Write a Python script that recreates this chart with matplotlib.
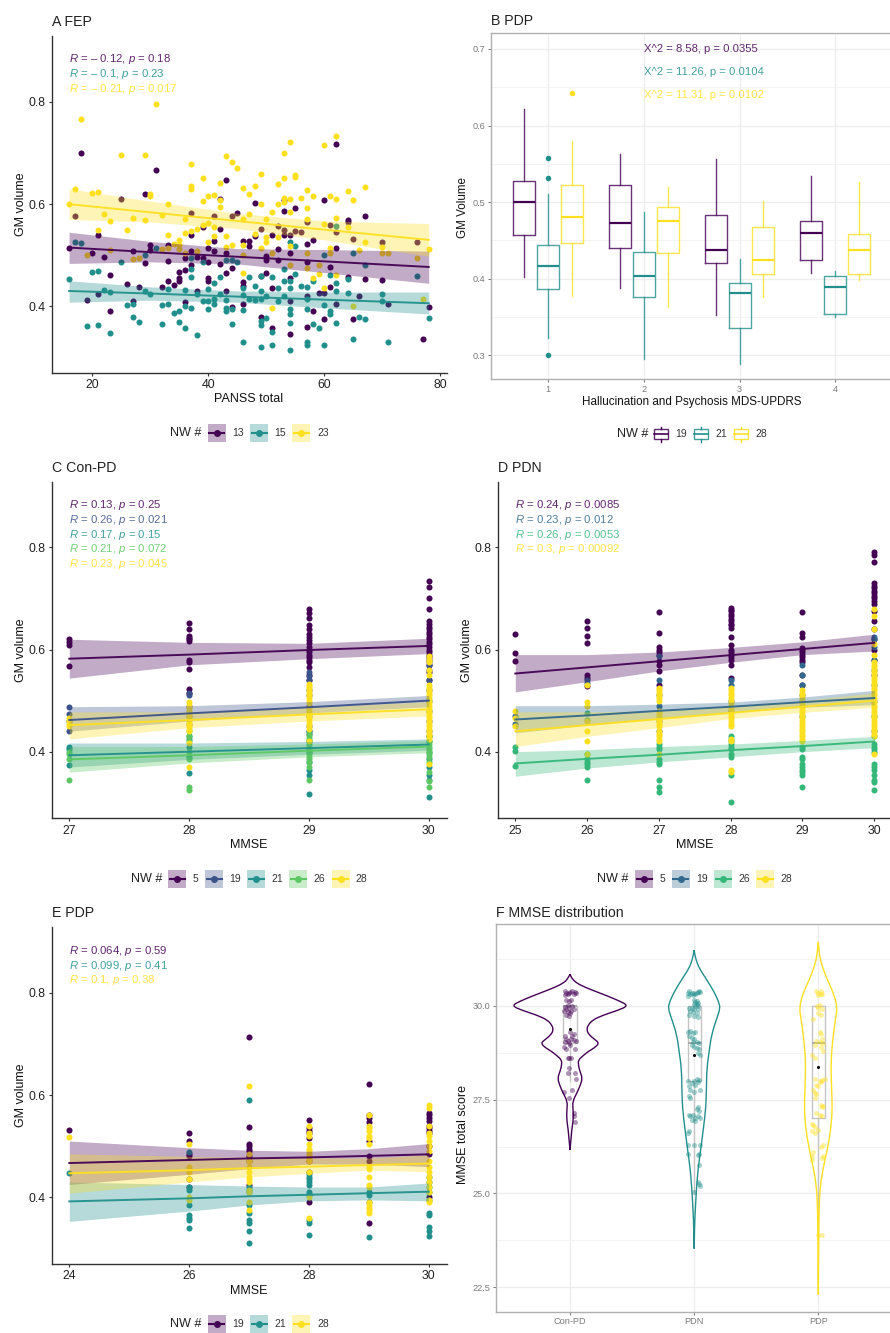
import matplotlib
matplotlib.use('Agg')
import numpy as np
import matplotlib.pyplot as plt
from matplotlib.patches import Rectangle, PathPatch
from matplotlib.path import Path

plt.rcParams['font.family'] = ['Liberation Sans', 'DejaVu Sans']
plt.rcParams['mathtext.fontset'] = 'custom'
plt.rcParams['mathtext.it'] = 'Liberation Sans:italic'
plt.rcParams['mathtext.rm'] = 'Liberation Sans'

# colours
PURPLE = '#440154'
BLUE3 = '#3B528B'
BLUE4 = '#31688E'
TEAL = '#21908C'
GREEN4 = '#35B779'
GREEN5 = '#5DC863'
YELLOW = '#FEE020'

# ---------------------------------------------------------
# A FEP
# ---------------------------------------------------------
FEP_13 = [(16,.515),(18,.70),(19,.412),(20,.505),(21,.54),(21,.425),(22,.497),(23,.461),(23,.39),(26,.444),(27,.508),(27,.41),
          (28,.437),(29,.62),(29,.485),(30,.52),(30,.51),(31,.667),(32,.438),(33,.52),(33,.488),(33,.45),(34,.442),(35,.468),
          (35,.455),(35,.45),(36,.472),(36,.495),(36,.408),(37,.54),(37,.508),(37,.48),(38,.43),(38,.497),(39,.555),(39,.495),
          (40,.515),(40,.487),(40,.455),(40,.45),(41,.528),(41,.508),(42,.552),(42,.483),(42,.61),(43,.648),(43,.505),(43,.465),
          (43,.43),(44,.475),(44,.398),(45,.583),(46,.527),(46,.447),(46,.44),(46,.405),(47,.528),(47,.518),(48,.603),(48,.538),
          (49,.552),(49,.46),(49,.38),(50,.498),(50,.49),(50,.465),(51,.54),(51,.435),(51,.358),(52,.512),(52,.49),(53,.586),
          (53,.54),(53,.608),(54,.54),(54,.505),(54,.455),(54,.41),(54,.345),(55,.593),(57,.522),(57,.487),(57,.42),(57,.36),
          (58,.53),(58,.39),(59,.426),(60,.608),(60,.427),(60,.375),(61,.477),(61,.437),(62,.718),(62,.515),(62,.405),(64,.568),
          (64,.458),(65,.375),(66,.42),(67,.577),(67,.453),(70,.451),(71,.405),(77,.335),(78,.398),
          (17,.577),(25,.61),(37,.583),(41,.577),(44,.577),(52,.557),(53,.55),(55,.547),(56,.545),(57,.565),(61,.56),(62,.545),
          (64,.565),(65,.532),(70,.525),(76,.525)]
FEP_15 = [(16,.454),(17,.525),(18,.523),(20,.467),(21,.47),(21,.363),(19,.362),(22,.432),(23,.428),(23,.347),(25,.487),(26,.402),
          (27,.405),(27,.38),(28,.37),(29,.43),(29,.50),(30,.425),(31,.515),(32,.403),(32,.366),(33,.433),(33,.405),(34,.387),
          (35,.39),(35,.37),(36,.432),(36,.40),(36,.357),(37,.473),(37,.457),(37,.396),(37,.495),(38,.425),(38,.343),(39,.486),
          (39,.41),(40,.433),(40,.41),(40,.395),(41,.445),(41,.415),(41,.405),(42,.457),(42,.425),(43,.49),(43,.412),(43,.397),
          (43,.39),(44,.49),(44,.395),(44,.365),(45,.487),(46,.435),(46,.422),(46,.392),(46,.33),(47,.457),(47,.415),(48,.44),
          (48,.412),(49,.46),(49,.43),(49,.415),(49,.372),(49,.363),(49,.32),(50,.42),(50,.378),(51,.458),(51,.35),(51,.325),
          (52,.435),(52,.41),(53,.473),(53,.45),(53,.42),(54,.525),(54,.45),(54,.435),(54,.395),(54,.385),(54,.367),(54,.315),
          (55,.518),(55,.463),(56,.44),(57,.438),(57,.415),(57,.395),(57,.33),(57,.325),(58,.45),(58,.365),(59,.358),(60,.50),
          (60,.403),(60,.325),(61,.462),(61,.39),(61,.385),(62,.557),(62,.445),(62,.43),(62,.368),(64,.453),(64,.427),(65,.505),
          (65,.336),(66,.38),(67,.48),(67,.376),(70,.425),(70,.41),(71,.33),(76,.46),(78,.377)]
FEP_23 = [(16,.60),(17,.63),(18,.766),(20,.622),(21,.623),(22,.58),(21,.55),(23,.567),(25,.697),(26,.55),(27,.572),(29,.696),
          (29,.569),(30,.62),(30,.615),(31,.796),(32,.578),(33,.60),(33,.54),(34,.522),(35,.53),(35,.52),(36,.57),(36,.543),
          (37,.635),(37,.63),(37,.678),(37,.548),(38,.552),(39,.56),(39,.652),(39,.606),(40,.616),(40,.564),(40,.525),(41,.618),
          (41,.555),(41,.537),(42,.642),(42,.608),(42,.594),(43,.694),(43,.538),(43,.517),(44,.682),(44,.52),(45,.67),(46,.632),
          (46,.57),(46,.52),(46,.465),(47,.62),(47,.58),(48,.635),(48,.542),(49,.66),(49,.60),(49,.515),(50,.57),(50,.535),
          (50,.525),(51,.585),(51,.397),(52,.64),(52,.60),(52,.535),(53,.70),(53,.652),(53,.613),(53,.605),(54,.722),(54,.61),
          (54,.585),(54,.518),(54,.48),(55,.658),(55,.654),(56,.612),(57,.628),(57,.593),(57,.57),(57,.505),(57,.475),(58,.615),
          (58,.455),(59,.463),(60,.715),(60,.562),(60,.435),(61,.615),(61,.515),(61,.505),(62,.733),(62,.61),(62,.572),(62,.462),
          (64,.625),(64,.555),(65,.608),(65,.40),(66,.51),(67,.633),(67,.525),(70,.517),(70,.505),(71,.505),(76,.495),(77,.415),
          (78,.512),(19,.50),(23,.51),(27,.492),(28,.495),(32,.512),(33,.515),(35,.512),(36,.505),(38,.508),(46,.50),(51,.505),
          (59,.48)]

FEP_FIT_X = [16, 30, 45, 60, 78]
FEP_13_FIT = [.515, .506, .497, .488, .477]
FEP_13_UP = [.545, .527, .513, .511, .508]
FEP_13_LOW = [.484, .487, .483, .466, .445]
FEP_15_FIT = [.430, .425, .419, .413, .406]
FEP_15_UP = [.450, .438, .430, .428, .428]
FEP_15_LOW = [.408, .412, .408, .397, .385]
FEP_23_FIT = [.600, .584, .567, .550, .530]
FEP_23_UP = [.630, .606, .582, .567, .562]
FEP_23_LOW = [.570, .565, .552, .530, .498]

FEP_TEXT = ['$R$ = – 0.12, $p$ = 0.18', '$R$ = – 0.1, $p$ = 0.23', '$R$ = – 0.21, $p$ = 0.017']

# ---------------------------------------------------------
# B PDP boxes (low whisker, q1, median, q3, high whisker)
# ---------------------------------------------------------
HALL_TICKS = [1, 2, 3, 4]
BOX_19 = [(.402,.457,.50,.528,.622),(.388,.44,.473,.522,.563),(.352,.421,.438,.483,.557),(.408,.424,.46,.475,.534)]
BOX_21 = [(.322,.386,.416,.444,.511),(.295,.376,.404,.435,.487),(.288,.336,.381,.395,.426),(.35,.354,.389,.403,.41)]
BOX_28 = [(.377,.447,.48,.522,.58),(.363,.434,.475,.494,.52),(.376,.406,.424,.467,.502),(.398,.406,.437,.459,.526)]
OUT_19 = [[], [], [], []]
OUT_21 = [[.558,.532,.30], [], [], []]
OUT_28 = [[.643], [], [], []]
CHI_TEXT = ['X^2 = 8.58, p = 0.0355', 'X^2 = 11.26, p = 0.0104', 'X^2 = 11.31, p = 0.0102']

# ---------------------------------------------------------
# C Con-PD
# ---------------------------------------------------------
CON_5 = {27: [.62,.615,.608,.567],
         28: [.651,.64,.626,.622,.62,.617,.58,.575,.562,.523,.515],
         29: [.68,.672,.662,.648,.64,.63,.625,.618,.612,.605,.60,.595,.59,.585,.58,.575,.566,.55,.54],
         30: [.735,.722,.70,.679,.655,.65,.645,.64,.635,.63,.625,.62,.615,.61,.605,.60,.595,.59,.585,.58,.57,.555,.54]}
CON_19 = {27: [.487,.473,.46,.44],
          28: [.515,.51,.49,.47,.455],
          29: [.555,.548,.54,.52,.51,.49,.47,.45,.44,.435],
          30: [.575,.57,.56,.54,.52,.50,.48,.46,.44,.43]}
CON_21 = {27: [.41,.405,.373],
          28: [.43,.425,.41,.39,.358],
          29: [.44,.42,.40,.38,.365,.355,.317],
          30: [.43,.42,.40,.385,.37,.355,.345,.311]}
CON_26 = {27: [.40,.395,.385,.344],
          28: [.44,.43,.42,.40,.385,.33,.325],
          29: [.435,.43,.425,.42,.415,.41,.405,.40,.395,.39,.385,.38,.37,.345],
          30: [.43,.42,.415,.41,.405,.40,.395,.39,.38,.36,.343,.33]}
CON_28 = {27: [.465,.46,.455,.45],
          28: [.497,.49,.485,.48,.475,.47,.465,.46,.455,.45,.445,.44,.418,.37],
          29: [.533,.528,.525,.52,.515,.51,.505,.50,.495,.485,.48,.475,.47,.465,.46,.455,.45,.445,.42],
          30: [.587,.58,.575,.56,.55,.53,.525,.52,.515,.51,.505,.50,.495,.49,.485,.48,.475,.47,.465,.46,.455,.45,.445,.44,.435,.43,.425,.375]}
CON_FIT_X = [27, 28, 29, 30]
CON_5_FIT = [.582, .590, .599, .607]
CON_5_UP = [.620, .614, .612, .622]
CON_5_LOW = [.544, .570, .582, .592]
CON_19_FIT = [.462, .475, .487, .500]
CON_19_UP = [.488, .490, .498, .510]
CON_19_LOW = [.440, .460, .476, .488]
CON_21_FIT = [.393, .400, .407, .414]
CON_21_UP = [.417, .417, .420, .425]
CON_21_LOW = [.370, .385, .395, .403]
CON_26_FIT = [.385, .393, .402, .410]
CON_26_UP = [.410, .410, .415, .422]
CON_26_LOW = [.360, .378, .390, .398]
CON_28_FIT = [.452, .462, .473, .483]
CON_28_UP = [.478, .478, .487, .498]
CON_28_LOW = [.425, .447, .460, .470]
CON_TEXT = ['$R$ = 0.13, $p$ = 0.25', '$R$ = 0.26, $p$ = 0.021', '$R$ = 0.17, $p$ = 0.15',
            '$R$ = 0.21, $p$ = 0.072', '$R$ = 0.23, $p$ = 0.045']

# ---------------------------------------------------------
# D PDN
# ---------------------------------------------------------
PDN_5 = {25: [.63,.593,.577],
         26: [.655,.642,.626,.613,.55,.545,.528],
         27: [.673,.633,.605,.60,.595,.59,.578,.57,.557,.53],
         28: [.682,.678,.675,.67,.665,.66,.655,.65,.648,.642,.625,.608,.60,.595,.59,.585,.58,.57,.545],
         29: [.673,.632,.625,.603,.60,.595,.59,.585,.58,.575,.55,.53],
         30: [.79,.785,.772,.73,.725,.72,.715,.71,.705,.70,.695,.69,.675,.655,.64,.62,.60,.58,.55]}
PDN_19 = {25: [.47,.455],
          26: [.54,.535],
          27: [.588,.54,.51,.49,.46,.44],
          28: [.54,.53,.50,.48],
          29: [.57,.55,.53,.51,.50,.47],
          30: [.625,.62,.605,.58,.56,.53,.50,.47,.44]}
PDN_26 = {25: [.41,.402,.372],
          26: [.475,.462,.395,.385,.38,.375,.37,.345],
          27: [.415,.41,.405,.385,.38,.375,.345,.33,.322],
          28: [.43,.425,.42,.415,.41,.405,.395,.39,.355,.302],
          29: [.41,.405,.39,.385,.375,.37,.365,.36,.355,.33],
          30: [.43,.415,.41,.405,.40,.375,.37,.365,.355,.345,.34,.325]}
PDN_28 = {25: [.48,.465,.45],
          26: [.53,.498,.49,.46,.44,.42,.395],
          27: [.525,.52,.515,.51,.505,.50,.48,.475,.47,.465,.46,.455,.45,.44,.435,.43,.425,.42,.395],
          28: [.525,.52,.515,.51,.505,.50,.495,.49,.485,.48,.475,.47,.465,.46,.455,.45,.425,.42,.365,.36],
          29: [.52,.515,.51,.505,.50,.495,.49,.485,.48,.475,.47,.465,.46,.455,.45,.445,.44,.435,.43,.425,.42],
          30: [.68,.665,.64,.61,.59,.575,.57,.565,.56,.555,.55,.545,.54,.535,.53,.525,.52,.515,.51,.505,.50,.495,.49,.485,.48,.475,.47,.465,.46,.455,.45,.445,.44,.435,.43,.395]}
PDN_FIT_X = [25, 26, 27, 28, 29, 30]
PDN_5_FIT = [.553, .565, .577, .589, .601, .613]
PDN_5_UP = [.590, .590, .595, .604, .615, .630]
PDN_5_LOW = [.517, .537, .558, .575, .590, .597]
PDN_19_FIT = [.463, .471, .480, .488, .497, .505]
PDN_19_UP = [.490, .490, .493, .497, .507, .520]
PDN_19_LOW = [.437, .452, .465, .477, .487, .492]
PDN_26_FIT = [.377, .386, .394, .403, .411, .420]
PDN_26_UP = [.400, .404, .410, .415, .422, .430]
PDN_26_LOW = [.352, .368, .380, .390, .400, .408]
PDN_28_FIT = [.440, .452, .464, .476, .488, .500]
PDN_28_UP = [.478, .478, .480, .490, .500, .515]
PDN_28_LOW = [.410, .430, .447, .465, .477, .487]
PDN_TEXT = ['$R$ = 0.24, $p$ = 0.0085', '$R$ = 0.23, $p$ = 0.012', '$R$ = 0.26, $p$ = 0.0053', '$R$ = 0.3, $p$ = 0.00092']

# ---------------------------------------------------------
# E PDP
# ---------------------------------------------------------
PDP_19 = {24: [.532],
          26: [.525,.51,.485,.48,.435,.42],
          27: [.713,.537,.505,.50,.495,.49,.48,.47,.425],
          28: [.552,.535,.53,.525,.515,.47,.45,.39],
          29: [.622,.56,.555,.548,.51,.48,.47,.35],
          30: [.565,.56,.555,.55,.54,.535,.53,.525,.50,.485,.40]}
PDP_21 = {24: [.448],
          26: [.488,.42,.415,.385,.365,.36,.355,.34],
          27: [.59,.42,.415,.41,.385,.37,.355,.35,.335,.31],
          28: [.445,.44,.435,.43,.425,.41,.405,.355,.35,.327],
          29: [.41,.405,.39,.323],
          30: [.44,.43,.42,.41,.395,.37,.365,.342,.335,.325]}
PDP_28 = {24: [.518],
          26: [.505,.46,.45,.435,.40,.395],
          27: [.618,.485,.47,.46,.45,.44,.435,.43,.415,.41,.39,.375],
          28: [.54,.525,.52,.505,.495,.49,.485,.48,.475,.47,.45,.40,.36],
          29: [.56,.54,.535,.53,.52,.515,.505,.46,.455,.44,.425,.42,.39,.385,.38,.375,.37],
          30: [.58,.575,.54,.525,.52,.51,.50,.49,.47,.46,.45,.44,.43,.42,.41,.395,.39]}
PDP_FIT_X = [24, 26, 27, 28, 29, 30]
PDP_19_FIT = [.467, .473, .476, .478, .481, .484]
PDP_19_UP = [.510, .497, .492, .490, .495, .505]
PDP_19_LOW = [.425, .445, .456, .465, .465, .460]
PDP_21_FIT = [.392, .398, .402, .405, .408, .411]
PDP_21_UP = [.430, .425, .422, .420, .420, .428]
PDP_21_LOW = [.353, .373, .385, .393, .395, .393]
PDP_28_FIT = [.447, .453, .457, .460, .463, .466]
PDP_28_UP = [.485, .480, .478, .477, .477, .483]
PDP_28_LOW = [.408, .430, .440, .447, .453, .450]
PDP_TEXT = ['$R$ = 0.064, $p$ = 0.59', '$R$ = 0.099, $p$ = 0.41', '$R$ = 0.1, $p$ = 0.38']

# ---------------------------------------------------------
# F MMSE distribution
# ---------------------------------------------------------
GROUPS = ['Con-PD', 'PDN', 'PDP']
VIO_CON_Y = [30.84,30.72,30.6,30.48,30.37,30.25,30.12,30.0,29.88,29.75,29.62,29.48,29.35,29.22,29.1,29.0,28.88,28.78,28.66,28.55,
             28.42,28.25,28.07,27.88,27.7,27.45,27.25,27.1,26.9,26.74,26.45,26.16]
VIO_CON_W = [0,.016,.054,.129,.214,.308,.402,.47,.389,.268,.182,.145,.134,.155,.2,.235,.198,.147,.102,.067,
             .067,.08,.1,.083,.059,.021,.024,.027,.024,.016,.008,0]
VIO_PDN_Y = [31.48,31.26,31.0,30.73,30.37,30.1,29.93,29.66,29.22,28.78,28.33,27.8,27.27,26.74,26.2,25.67,25.14,24.5,24.07,23.53]
VIO_PDN_W = [0,.011,.04,.094,.161,.198,.21,.182,.139,.121,.102,.099,.094,.075,.054,.032,.019,.008,.003,0]
VIO_PDP_Y = [31.7,31.35,31.0,30.64,30.28,29.93,29.66,29.22,28.78,28.33,27.8,27.27,26.74,26.2,25.67,25.14,24.5,23.63,22.3]
VIO_PDP_W = [0,.008,.035,.08,.129,.153,.139,.121,.107,.102,.107,.113,.102,.075,.038,.013,.005,.003,0]

# low whisker, q1, median, q3, high whisker
MMSE_BOX = [(28,29,30,30,30), (25,28,29,30,30), (24,27,29,30,30)]
MMSE_MEAN = [29.37, 28.69, 28.36]

JIT_CON = [(-.04,30.38),(-.03,30.35),(-.01,30.33),(.02,30.38),(.04,30.36),(.05,30.33),(-.02,30.3),(.0,30.36),(.03,30.3),(-.04,30.28),
           (-.03,30.15),(-.01,30.12),(.01,30.14),(-.02,30.02),(-.04,29.97),(-.01,29.95),(.02,29.98),(-.03,29.9),(-.05,29.85),(-.02,29.82),
           (.0,29.8),(.01,29.85),(.03,29.9),(-.03,29.75),(-.01,29.73),(.0,29.3),(.03,29.25),(.02,29.2),(-.04,29.18),(-.03,29.1),
           (-.02,29.05),(-.04,29.02),(.01,29.1),(.03,29.08),(.05,29.05),(-.01,29.0),(-.05,28.9),(-.03,28.85),(.04,28.85),(.0,28.95),
           (-.02,28.62),(-.01,28.6),(.01,28.6),(-.01,28.35),(-.02,28.2),(.04,28.2),(.05,28.05),(-.05,27.7),(.02,27.75),(-.01,27.55),
           (.03,27.15),(.03,27.05),(.04,26.9)]
JIT_PDN = [(-.05,30.35),(-.04,30.38),(-.03,30.3),(-.02,30.33),(-.01,30.28),(.0,30.35),(.01,30.3),(.02,30.33),(.03,30.36),(.04,30.38),
           (.05,30.37),(-.05,30.25),(.0,30.15),(.01,30.1),(.02,30.12),(.03,30.08),(.0,30.05),(.02,30.05),(.03,30.0),(.01,29.98),
           (-.04,29.95),(-.02,29.95),(.0,29.9),(.03,29.92),(-.03,29.85),(-.01,29.82),(.02,29.8),(-.04,29.75),(.0,29.72),(.03,29.7),
           (-.05,29.3),(-.03,29.33),(-.01,29.28),(.01,29.3),(-.04,29.2),(-.02,29.15),(.0,29.1),(-.01,29.02),(.02,29.03),(.04,29.0),
           (-.02,28.95),(.0,28.9),(.02,28.88),(.04,28.85),(.03,28.75),(.05,28.7),(-.05,28.0),(-.04,27.85),(.0,28.0),(.02,28.05),
           (.03,27.98),(.04,28.02),(-.02,27.95),(.01,27.9),(-.03,27.75),(-.04,27.6),(-.03,27.55),(.0,27.7),(.05,27.75),(.03,27.3),
           (.02,27.25),(.04,27.2),(-.04,27.08),(-.03,27.05),(-.01,27.1),(.01,27.02),(.03,27.05),(.05,27.0),(-.02,26.95),(.01,26.92),
           (-.05,26.62),(-.04,26.65),(-.05,26.3),(.0,26.28),(.05,26.3),(-.05,26.05),(.03,26.02),(.04,26.05),(.04,25.75),(.03,25.3),
           (.04,25.25),(.05,25.2),(.0,25.03)]
JIT_PDP = [(-.02,30.4),(.0,30.35),(.02,30.38),(.03,30.32),(.02,30.3),(.0,30.28),(-.01,30.0),(.01,30.02),(.0,29.95),(.03,29.9),
           (.0,29.8),(.02,29.75),(-.04,29.65),(.01,29.3),(.02,29.25),(.03,29.1),(-.02,29.05),(.01,29.02),(.04,29.0),(-.03,28.95),
           (.02,28.9),(.04,28.8),(-.05,28.7),(-.03,28.6),(.01,28.0),(.02,27.98),(.03,28.02),(.05,28.05),(-.03,28.05),(-.02,27.9),
           (.0,27.85),(-.04,27.75),(-.03,27.68),(-.02,27.65),(-.03,27.55),(.02,27.35),(.03,27.3),(.04,27.33),(-.02,27.15),(.01,27.1),
           (.03,27.05),(-.05,26.85),(-.04,26.82),(-.03,26.78),(-.05,26.65),(-.03,26.62),(.0,26.68),(.02,26.25),(.04,26.3),(-.04,26.1),
           (-.05,26.0),(.03,25.95),(.04,26.0),(-.05,25.9),(.03,23.9),(.0,23.88)]

MMSE_MAJOR = [30, 27.5, 25, 22.5]
MMSE_MINOR = [31.25, 28.75, 26.25, 23.75]

# ---------------------------------------------------------
# figure
# ---------------------------------------------------------
W, H = 890, 1333
fig = plt.figure(figsize=(W / 100, H / 100), dpi=100)

# full figure layer in pixels, used for legends and label placing
over = fig.add_axes([0, 0, 1, 1])
over.set_xlim(0, W)
over.set_ylim(H, 0)
over.axis('off')
over.set_zorder(5)


def make_axes(left, right, top, bottom, xa, xb, ya, yb):
    # xa/xb/ya/yb are (value, pixel) pairs
    ax = fig.add_axes([left / W, 1 - bottom / H, (right - left) / W, (bottom - top) / H])
    sx = (xb[0] - xa[0]) / (xb[1] - xa[1])
    sy = (yb[0] - ya[0]) / (yb[1] - ya[1])
    ax.set_xlim(xa[0] + (left - xa[1]) * sx, xa[0] + (right - xa[1]) * sx)
    ax.set_ylim(ya[0] + (bottom - ya[1]) * sy, ya[0] + (top - ya[1]) * sy)
    return ax


def labels(ax, xlabel, ylabel, xpos, ypos, size=9):
    ax.set_xlabel(xlabel, fontsize=size, va='center', color='#111111')
    ax.set_ylabel(ylabel, fontsize=size, va='center', color='#111111')
    ax.xaxis.set_label_coords(xpos[0], xpos[1] + 1.5, transform=over.transData)
    ax.yaxis.set_label_coords(ypos[0] + 2.5, ypos[1], transform=over.transData)


def classic(ax, xticks, title, pad):
    for s in ['top', 'right']:
        ax.spines[s].set_visible(False)
    for s in ['left', 'bottom']:
        ax.spines[s].set_linewidth(1.0)
        ax.spines[s].set_color('#333333')
    ax.set_xticks(xticks)
    ax.set_yticks([.4, .6, .8])
    ax.set_yticklabels(['0.4', '0.6', '0.8'])
    ax.tick_params(labelsize=8.8, length=2.5, width=0.8, color='#333333', labelcolor='#222222', pad=2)
    ax.set_title(title, loc='left', fontsize=10.2, pad=pad, color='#222222')


def bw(ax, title, pad):
    for s in ax.spines.values():
        s.set_linewidth(1.0)
        s.set_color('#B0B0B0')
    ax.set_axisbelow(True)
    ax.grid(True, which='major', color='#EDEDED', lw=0.9)
    ax.grid(True, which='minor', axis='y', color='#F3F3F3', lw=0.6)
    ax.tick_params(which='major', labelsize=6.6, length=2.5, width=0.7, color='#777777', labelcolor='#7A7A7A', pad=1.5)
    ax.tick_params(which='minor', length=0)
    ax.set_title(title, loc='left', fontsize=10.2, pad=pad, color='#222222')


def strips(ax, series, colour):
    for x, vals in series.items():
        ax.scatter([x] * len(vals), vals, s=19, color=colour, lw=0, zorder=2)


def cloud(ax, pairs, colour):
    ax.scatter([p[0] for p in pairs], [p[1] for p in pairs], s=19, color=colour, lw=0, zorder=2)


def fit(ax, x, line, up, low, colour):
    ax.fill_between(x, low, up, color=colour, alpha=0.33, lw=0, zorder=3)
    ax.plot(x, line, color=colour, lw=1.4, alpha=.95, zorder=4)


def cor_text(ax, x, y0, texts, colours):
    for i, (t, c) in enumerate(zip(texts, colours)):
        ax.text(x, y0 - i * .029, t, color=c, fontsize=8.2, va='center', ha='left', alpha=.85, zorder=6)


def fit_legend(y, title_x, key_xs, label_xs, names, colours):
    over.text(title_x, y, 'NW #', fontsize=9.1, va='center', ha='left', color='#222222')
    for kx, lx, n, c in zip(key_xs, label_xs, names, colours):
        over.add_patch(Rectangle((kx, y - 9), 18, 18, fc=c, alpha=0.33, lw=0))
        over.plot([kx + 1.5, kx + 16.5], [y, y], color=c, lw=1.5)
        over.plot([kx + 9], [y], 'o', color=c, ms=5, mew=0)
        over.text(lx, y, n, fontsize=7.5, va='center', ha='left', color='#333333')


def violin(ax, pos, vy, vw, colour):
    # outline runs up one side and back down the other, curved through the read values
    vy = np.array(vy)
    vw = np.array(vw)
    pts = np.c_[np.r_[pos - vw, (pos + vw)[::-1]], np.r_[vy, vy[::-1]]]
    verts = [pts[0]]
    codes = [Path.MOVETO]
    for i in range(1, len(pts) - 1):
        verts += [pts[i], (pts[i] + pts[i + 1]) / 2]
        codes += [Path.CURVE3, Path.CURVE3]
    verts.append(pts[-1])
    codes.append(Path.LINETO)
    ax.add_patch(PathPatch(Path(verts, codes), fc='none', ec=colour, lw=1.0, zorder=3))


# --- A FEP ---
ax = make_axes(51.7, 446.7, 36, 372.7, (20, 92.3), (80, 440.3), (.4, 306.3), (.8, 102))
classic(ax, [20, 40, 60, 80], 'A FEP', 7)
cloud(ax, FEP_13, PURPLE)
cloud(ax, FEP_15, TEAL)
cloud(ax, FEP_23, YELLOW)
fit(ax, FEP_FIT_X, FEP_13_FIT, FEP_13_UP, FEP_13_LOW, PURPLE)
fit(ax, FEP_FIT_X, FEP_15_FIT, FEP_15_UP, FEP_15_LOW, TEAL)
fit(ax, FEP_FIT_X, FEP_23_FIT, FEP_23_UP, FEP_23_LOW, YELLOW)
cor_text(ax, 16, .8835, FEP_TEXT, [PURPLE, TEAL, YELLOW])
labels(ax, 'PANSS total', 'GM volume', (249, 398), (18, 204))
fit_legend(433, 170, [207.7, 250, 292.3], [232.3, 274.7, 317], ['13', '15', '23'], [PURPLE, TEAL, YELLOW])

# --- B PDP ---
ax = make_axes(490.7, 893, 33.3, 379.3, (1, 548), (4, 835.3), (.3, 355.3), (.7, 49))
bw(ax, 'B PDP', 6)
ax.set_xticks(HALL_TICKS)
ax.set_yticks([.3, .4, .5, .6, .7])
ax.set_yticks([.35, .45, .55, .65], minor=True)
for boxes, outs, off, c in [(BOX_19, OUT_19, -.25, PURPLE), (BOX_21, OUT_21, 0, TEAL), (BOX_28, OUT_28, .25, YELLOW)]:
    stats = [dict(whislo=b[0], q1=b[1], med=b[2], q3=b[3], whishi=b[4], fliers=o) for b, o in zip(boxes, outs)]
    pos = [t + off for t in HALL_TICKS]
    ax.bxp(stats, positions=pos, widths=.23, manage_ticks=False, showcaps=False,
           boxprops=dict(color=c, lw=1.0, alpha=.8), whiskerprops=dict(color=c, lw=1.0, alpha=.8),
           medianprops=dict(color=c, lw=1.6, solid_capstyle='butt'),
           flierprops=dict(marker='o', ms=4, mfc=c, mec=c, mew=0))
for i, (t, c) in enumerate(zip(CHI_TEXT, [PURPLE, TEAL, YELLOW])):
    ax.text(2, .7 - i * .03, t, color=c, fontsize=8.1, va='center', ha='left', alpha=.85)
labels(ax, 'Hallucination and Psychosis MDS-UPDRS', 'GM Volume', (691.5, 400), (460.5, 207), size=8.4)
over.text(617, 434, 'NW #', fontsize=9.1, va='center', ha='left', color='#222222')
for kx, lx, n, c in zip([660.7, 700.7, 740.7], [675.7, 715.7, 755.7], ['19', '21', '28'], [PURPLE, TEAL, YELLOW]):
    over.add_patch(Rectangle((kx - 7, 429.3), 14, 10, fc='none', ec=c, lw=1.0, alpha=.85))
    over.plot([kx - 7, kx + 7], [434, 434], color=c, lw=1.2)
    over.plot([kx, kx], [426.7, 429.3], color=c, lw=1.0)
    over.plot([kx, kx], [439.3, 441.7], color=c, lw=1.0)
    over.text(lx, 434, n, fontsize=7.5, va='center', ha='left', color='#333333')

# --- C Con-PD ---
ax = make_axes(51.7, 446.7, 481.7, 818.3, (27, 69.3), (30, 428.7), (.4, 751.7), (.8, 547.3))
classic(ax, [27, 28, 29, 30], 'C Con-PD', 7)
C5 = [PURPLE, BLUE3, TEAL, GREEN5, YELLOW]
for series, c in zip([CON_5, CON_19, CON_21, CON_26, CON_28], C5):
    strips(ax, series, c)
fit(ax, CON_FIT_X, CON_5_FIT, CON_5_UP, CON_5_LOW, PURPLE)
fit(ax, CON_FIT_X, CON_19_FIT, CON_19_UP, CON_19_LOW, BLUE3)
fit(ax, CON_FIT_X, CON_21_FIT, CON_21_UP, CON_21_LOW, TEAL)
fit(ax, CON_FIT_X, CON_26_FIT, CON_26_UP, CON_26_LOW, GREEN5)
fit(ax, CON_FIT_X, CON_28_FIT, CON_28_UP, CON_28_LOW, YELLOW)
cor_text(ax, 27, .883, CON_TEXT, C5)
labels(ax, 'MMSE', 'GM volume', (249, 844), (18, 650))
fit_legend(878.7, 130.7, [168.3, 205, 247.3, 289.3, 331.7], [192.3, 229.3, 271.3, 313.3, 355.7],
           ['5', '19', '21', '26', '28'], C5)

# --- D PDN ---
ax = make_axes(497.7, 893, 481.7, 818.3, (25, 515.3), (30, 874.3), (.4, 751.7), (.8, 547.3))
classic(ax, [25, 26, 27, 28, 29, 30], 'D PDN', 7)
C4 = [PURPLE, BLUE4, GREEN4, YELLOW]
for series, c in zip([PDN_5, PDN_19, PDN_26, PDN_28], C4):
    strips(ax, series, c)
fit(ax, PDN_FIT_X, PDN_5_FIT, PDN_5_UP, PDN_5_LOW, PURPLE)
fit(ax, PDN_FIT_X, PDN_19_FIT, PDN_19_UP, PDN_19_LOW, BLUE4)
fit(ax, PDN_FIT_X, PDN_26_FIT, PDN_26_UP, PDN_26_LOW, GREEN4)
fit(ax, PDN_FIT_X, PDN_28_FIT, PDN_28_UP, PDN_28_LOW, YELLOW)
cor_text(ax, 25, .883, PDN_TEXT, C4)
labels(ax, 'MMSE', 'GM volume', (695, 844), (464, 650))
fit_legend(878.7, 597.3, [635.3, 671.7, 714, 756.3], [659.7, 696.3, 738.3, 780.7], ['5', '19', '26', '28'], C4)

# --- E PDP ---
ax = make_axes(51.7, 446.7, 926.7, 1263.7, (24, 69.3), (30, 428.7), (.4, 1197.3), (.8, 992.7))
classic(ax, [24, 26, 28, 30], 'E PDP', 7)
C3 = [PURPLE, TEAL, YELLOW]
for series, c in zip([PDP_19, PDP_21, PDP_28], C3):
    strips(ax, series, c)
fit(ax, PDP_FIT_X, PDP_19_FIT, PDP_19_UP, PDP_19_LOW, PURPLE)
fit(ax, PDP_FIT_X, PDP_21_FIT, PDP_21_UP, PDP_21_LOW, TEAL)
fit(ax, PDP_FIT_X, PDP_28_FIT, PDP_28_UP, PDP_28_LOW, YELLOW)
cor_text(ax, 24, .882, PDP_TEXT, C3)
labels(ax, 'MMSE', 'GM volume', (249, 1289), (18, 1095))
fit_legend(1324.3, 170, [207.7, 250, 292.3], [232.3, 274.3, 317.3], ['19', '21', '28'], C3)

# --- F MMSE ---
ax = make_axes(495.7, 893, 924.3, 1311.7, (1, 570), (3, 818.3), (30, 1005.7), (22.5, 1287.3))
bw(ax, 'F MMSE distribution', 5)
ax.set_xticks([1, 2, 3])
ax.set_xticklabels(GROUPS)
ax.set_yticks(MMSE_MAJOR)
ax.set_yticklabels(['30.0', '27.5', '25.0', '22.5'])
ax.set_yticks(MMSE_MINOR, minor=True)
for i, (vy, vw, jit, c) in enumerate(zip([VIO_CON_Y, VIO_PDN_Y, VIO_PDP_Y], [VIO_CON_W, VIO_PDN_W, VIO_PDP_W],
                                         [JIT_CON, JIT_PDN, JIT_PDP], C3)):
    pos = i + 1
    violin(ax, pos, vy, vw, c)
    b = MMSE_BOX[i]
    ax.bxp([dict(whislo=b[0], q1=b[1], med=b[2], q3=b[3], whishi=b[4], fliers=[])], positions=[pos], widths=.105,
           manage_ticks=False, showcaps=False, showfliers=False,
           boxprops=dict(color='#C4C4C4', lw=1.0), whiskerprops=dict(color='#C4C4C4', lw=1.0),
           medianprops=dict(color='#ABABAB', lw=1.4, solid_capstyle='butt'))
    ax.scatter([pos + p[0] for p in jit], [p[1] for p in jit], s=13, color=c, alpha=.42, lw=0, zorder=4)
    ax.scatter([pos], [MMSE_MEAN[i]], s=5, color='black', lw=0, zorder=5)
ax.set_ylabel('MMSE total score', fontsize=9, va='center', color='#111111')
ax.yaxis.set_label_coords(463, 1135, transform=over.transData)

fig.savefig('out.png', dpi=100)
